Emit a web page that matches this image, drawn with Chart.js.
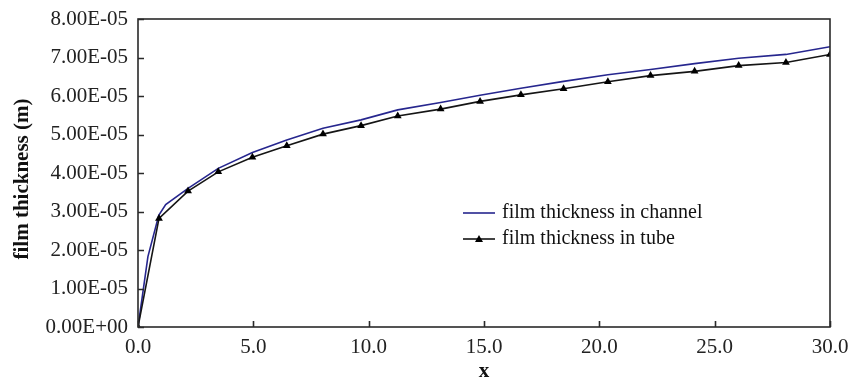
<!DOCTYPE html>
<html>
<head>
<meta charset="utf-8">
<script src="https://cdn.jsdelivr.net/npm/chart.js@4.4.1/dist/chart.umd.min.js"></script>
<style>
  html,body{margin:0;padding:0;background:#fff;}
  #wrap{width:848px;height:384px;}
</style>
</head>
<body>
<div id="wrap"><canvas id="filmChart" width="848" height="384"></canvas></div>
<script>
// film thickness along x, channel (plain line) and tube (triangles)
var xChannel = [0, 0.43, 0.9, 1.2, 2.17, 3.48, 4.96, 6.45, 8.02, 9.67, 11.26, 13.12, 14.83, 16.6, 18.45, 20.37, 22.22, 24.13, 26.04, 28.09, 30];
var channel = [0, 1.83e-5, 2.9e-5, 3.18e-5, 3.6e-5, 4.12e-5, 4.53e-5, 4.86e-5, 5.16e-5, 5.38e-5, 5.64e-5, 5.83e-5, 6.02e-5, 6.2e-5, 6.38e-5, 6.55e-5, 6.69e-5, 6.84e-5, 6.98e-5, 7.08e-5, 7.28e-5];
var xTube = [0, 0.91, 2.17, 3.48, 4.96, 6.45, 8.02, 9.67, 11.26, 13.12, 14.83, 16.6, 18.45, 20.37, 22.22, 24.13, 26.04, 28.09, 30];
var tube = [0, 2.82e-5, 3.53e-5, 4.03e-5, 4.41e-5, 4.71e-5, 5.01e-5, 5.23e-5, 5.48e-5, 5.66e-5, 5.86e-5, 6.03e-5, 6.19e-5, 6.37e-5, 6.53e-5, 6.64e-5, 6.79e-5, 6.87e-5, 7.08e-5];
var seriesNames = ['film thickness in channel', 'film thickness in tube'];
var xTitle = 'x', yTitle = 'film thickness (m)';

function toPoints(xs, ys){
    var pts = [];
    for(var i = 0;i<xs.length;i++){
        pts.push({x:xs[i], y:ys[i]});
    }
    return pts;
}
//excel style 8.00E-05
function sci(v){
    var s = Number(v).toExponential(2).split('e');
    var e = Number(s[1]), sign = e<0 ? '-' : '+';
    e = Math.abs(e);
    return s[0] + 'E' + sign + (e<10 ? '0'+e : e);
}

var frameColor = '#2a2a2a';
var serif = '"Liberation Serif", "Times New Roman", serif';

//frame box, inward ticks, axis titles and legend
var decor = {
    id:'decor',
    afterDraw(chart){
        var ctx = chart.ctx, a = chart.chartArea, sx = chart.scales.x, sy = chart.scales.y;
        ctx.save();
        ctx.strokeStyle = frameColor;
        ctx.lineWidth = 1.6;
        ctx.strokeRect(a.left, a.top, a.right-a.left, a.bottom-a.top);
        ctx.beginPath();
        sy.ticks.forEach(t=>{
            var y = Math.round(sy.getPixelForValue(t.value))+0.5;
            ctx.moveTo(a.left, y); ctx.lineTo(a.left+6, y);
        });
        sx.ticks.forEach(t=>{
            var x = Math.round(sx.getPixelForValue(t.value))+0.5;
            ctx.moveTo(x, a.bottom); ctx.lineTo(x, a.bottom-6);
        });
        ctx.stroke();
        //axis titles
        ctx.fillStyle = '#111';
        ctx.font = 'bold 21px ' + serif;
        ctx.textAlign = 'center';
        ctx.textBaseline = 'middle';
        ctx.fillText(xTitle, (a.left+a.right)/2, 372);
        ctx.translate(23, 179);
        ctx.rotate(-Math.PI/2);
        ctx.fillText(yTitle, 0, 0);
        ctx.restore();
        //legend
        ctx.save();
        ctx.font = '20px ' + serif;
        ctx.textBaseline = 'middle';
        ctx.textAlign = 'left';
        var lx = 463, rows = [213, 239];
        chart.data.datasets.forEach((ds,i)=>{
            var y = rows[i];
            ctx.strokeStyle = ds.borderColor;
            ctx.lineWidth = ds.borderWidth;
            ctx.beginPath(); ctx.moveTo(lx, y); ctx.lineTo(lx+32, y); ctx.stroke();
            if(ds.pointRadius > 0){
                ctx.fillStyle = ds.pointBackgroundColor;
                ctx.beginPath();
                ctx.moveTo(lx+16, y-4); ctx.lineTo(lx+20, y+3); ctx.lineTo(lx+12, y+3);
                ctx.closePath(); ctx.fill();
            }
            ctx.fillStyle = '#111';
            ctx.fillText(ds.label, lx+39, y);
        });
        ctx.restore();
    }
};

var ctx = document.getElementById('filmChart').getContext('2d');
var chart = new Chart(ctx, {
    type:'line',
    data:{
        datasets:[{
            label:seriesNames[0],
            data:toPoints(xChannel, channel),
            borderColor:'#26268e',
            borderWidth:1.6,
            pointRadius:0,
            tension:0,
            order:1
        },{
            label:seriesNames[1],
            data:toPoints(xTube, tube),
            borderColor:'#151515',
            borderWidth:1.6,
            pointStyle:'triangle',
            pointRadius:4.5,
            pointBackgroundColor:'#000',
            pointBorderColor:'#000',
            pointBorderWidth:0,
            tension:0,
            order:0
        }]
    },
    options:{
        responsive:false,
        animation:false,
        events:[],
        layout:{padding:{top:19, right:18, left:0, bottom:0}},
        plugins:{legend:{display:false}, tooltip:{enabled:false}},
        scales:{
            x:{
                type:'linear',
                min:0, max:30,
                grid:{display:false, drawTicks:false},
                border:{display:false},
                afterFit(s){ s.height = 57; s.paddingLeft = 0; s.paddingRight = 0; },
                ticks:{
                    stepSize:5,
                    padding:8,
                    maxRotation:0,
                    color:'#222',
                    font:{family:serif, size:21},
                    callback:(v)=>Number(v).toFixed(1)
                }
            },
            y:{
                min:0, max:8e-5,
                grid:{display:false, drawTicks:false},
                border:{display:false},
                afterFit(s){ s.width = 138; s.paddingTop = 0; s.paddingBottom = 0; },
                ticks:{
                    stepSize:1e-5,
                    padding:10,
                    color:'#222',
                    font:{family:serif, size:21},
                    callback:(v)=>sci(v)
                }
            }
        }
    },
    plugins:[decor]
});
</script>
</body>
</html>
